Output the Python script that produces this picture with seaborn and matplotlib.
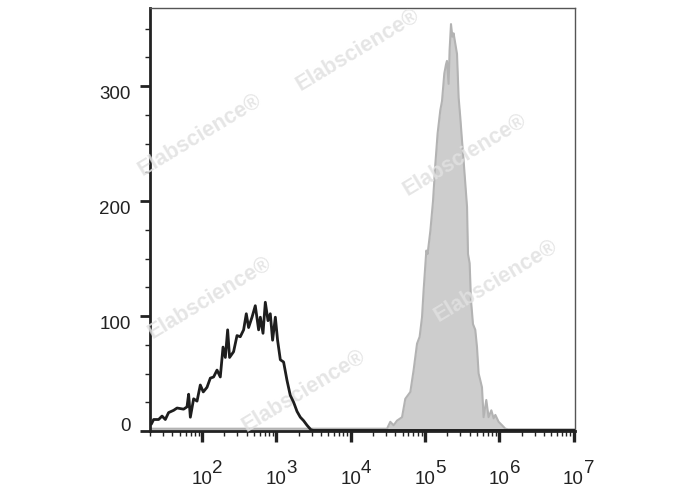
import numpy as np
import pandas as pd
import seaborn as sns
import matplotlib.pyplot as plt
import matplotlib.ticker as mticker

# isotype control histogram (black outline): log10 fluorescence vs cell count
ctrl_log = [1.30, 1.318, 1.349, 1.416, 1.462, 1.506, 1.550, 1.618, 1.664, 1.752, 1.798,
            1.820, 1.843, 1.887, 1.933, 1.977, 2.017, 2.067, 2.112, 2.156, 2.202,
            2.246, 2.283, 2.314, 2.345, 2.371, 2.425, 2.471, 2.515, 2.560, 2.596,
            2.627, 2.673, 2.717, 2.762, 2.785, 2.821, 2.852, 2.888, 2.919, 2.950,
            2.987, 3.017, 3.054, 3.098, 3.144, 3.188, 3.233, 3.279, 3.323, 3.367,
            3.413, 3.467, 3.50, 7.02]
ctrl_count = [6, 6, 10, 10, 13, 10, 16, 18, 20, 19, 21,
              32, 12, 28, 26, 40, 34, 38, 46, 47, 53,
              47, 73, 64, 88, 64, 69, 83, 82, 88, 102,
              90, 99, 109, 88, 99, 85, 112, 96, 102, 79,
              99, 79, 62, 60, 44, 31, 25, 17, 12, 9,
              5, 1, 0.5, 0.5]

# stained sample histogram (filled gray)
stain_log = [1.30, 4.45, 4.490, 4.534, 4.579, 4.624, 4.692, 4.736, 4.804, 4.848, 4.894,
             4.929, 4.961, 4.982, 5.019, 5.036, 5.073, 5.109, 5.140, 5.171, 5.207,
             5.230, 5.261, 5.284, 5.297, 5.319, 5.332, 5.351, 5.369, 5.386, 5.409,
             5.432, 5.454, 5.476, 5.499, 5.521, 5.544, 5.567, 5.580, 5.602, 5.620,
             5.647, 5.678, 5.701, 5.723, 5.746, 5.768, 5.790, 5.826, 5.857, 5.894,
             5.925, 5.948, 5.992, 6.038, 6.082, 6.12, 7.02]
stain_count = [2, 2, 2, 8, 5, 9, 12, 28, 34, 53, 76,
               82, 99, 122, 157, 154, 174, 200, 232, 259, 279,
               287, 311, 319, 322, 302, 331, 354, 343, 346, 337,
               328, 290, 273, 253, 235, 215, 195, 154, 146, 114,
               93, 88, 73, 50, 44, 38, 12, 27, 12, 18,
               11, 14, 8, 5, 2, 1.5, 1.5]

x_lim_log = (1.3, 7.02)
x_decades = [2, 3, 4, 5, 6, 7]
y_lim = (0, 368)
y_ticks = [0, 100, 200, 300]

watermark = "Elabscience\u00ae"
watermark_pos = [(0.49, 0.90), (0.118, 0.70), (0.741, 0.652),
                 (0.141, 0.315), (0.814, 0.355), (0.362, 0.095)]

sns.set_style("ticks")
plt.rcParams["font.family"] = ["Liberation Sans", "DejaVu Sans"]

ctrl = pd.DataFrame({"x": np.power(10.0, ctrl_log), "count": ctrl_count})
stain = pd.DataFrame({"x": np.power(10.0, stain_log), "count": stain_count})

fig = plt.figure(figsize=(6.88, 4.90), dpi=100)
ax = fig.add_axes([150 / 688, 59 / 490, 425 / 688, 423 / 490])
ax.set_xscale("log")

ax.fill_between(stain["x"], stain["count"], color="#cdcdcd", lw=0, zorder=1)
sns.lineplot(data=stain, x="x", y="count", ax=ax, color="#b3b3b3", lw=1.5,
             estimator=None, sort=False, zorder=2)

for wx, wy in watermark_pos:
    ax.text(wx, wy, watermark, transform=ax.transAxes, rotation=31,
            ha="center", va="center", fontsize=15.5, fontweight="bold",
            color="#e1e1e1", alpha=0.85, zorder=3)

sns.lineplot(data=ctrl, x="x", y="count", ax=ax, color="#1e1e1e", lw=2,
             estimator=None, sort=False, zorder=4)

ax.set_xlim(10 ** x_lim_log[0], 10 ** x_lim_log[1])
ax.set_ylim(*y_lim)
ax.set_xlabel("")
ax.set_ylabel("")

# x axis: decade labels drawn as "10" plus a full size raised exponent
ax.set_xticks([10.0 ** d for d in x_decades])
ax.xaxis.set_major_formatter(mticker.FuncFormatter(lambda v, p: "10"))
ax.xaxis.set_minor_locator(mticker.LogLocator(base=10, subs=np.arange(2, 10), numticks=20))
ax.xaxis.set_minor_formatter(mticker.NullFormatter())
for d in x_decades:
    ax.annotate(str(d), xy=(10.0 ** d, 0), xycoords=("data", "axes fraction"),
                xytext=(7.5, -30), textcoords="offset points", ha="left",
                va="baseline", fontsize=13.5, color="#222222", annotation_clip=False)

ax.set_yticks(y_ticks)
ax.yaxis.set_minor_locator(mticker.MultipleLocator(25))

ax.tick_params(axis="y", which="major", direction="out", length=7, width=2,
               color="#222222", labelsize=13.5, labelcolor="#222222", pad=7)
ax.tick_params(axis="x", which="major", direction="out", length=8, width=2.4,
               color="#222222", labelsize=13.5, labelcolor="#222222", pad=20.5)
ax.tick_params(axis="both", which="minor", direction="out", length=3.5, width=1,
               color="#222222")

# FlowJo-style label placement: 0 sits on its tick, others hang below theirs
for tick, val in zip(ax.yaxis.get_major_ticks(), y_ticks):
    tick.label1.set_verticalalignment("baseline" if val == 0 else "top")

for side in ["left", "bottom"]:
    ax.spines[side].set_linewidth(2)
    ax.spines[side].set_color("#222222")
for side in ["top", "right"]:
    ax.spines[side].set_linewidth(1)
    ax.spines[side].set_color("#555555")

fig.savefig("out.png", dpi=100)
